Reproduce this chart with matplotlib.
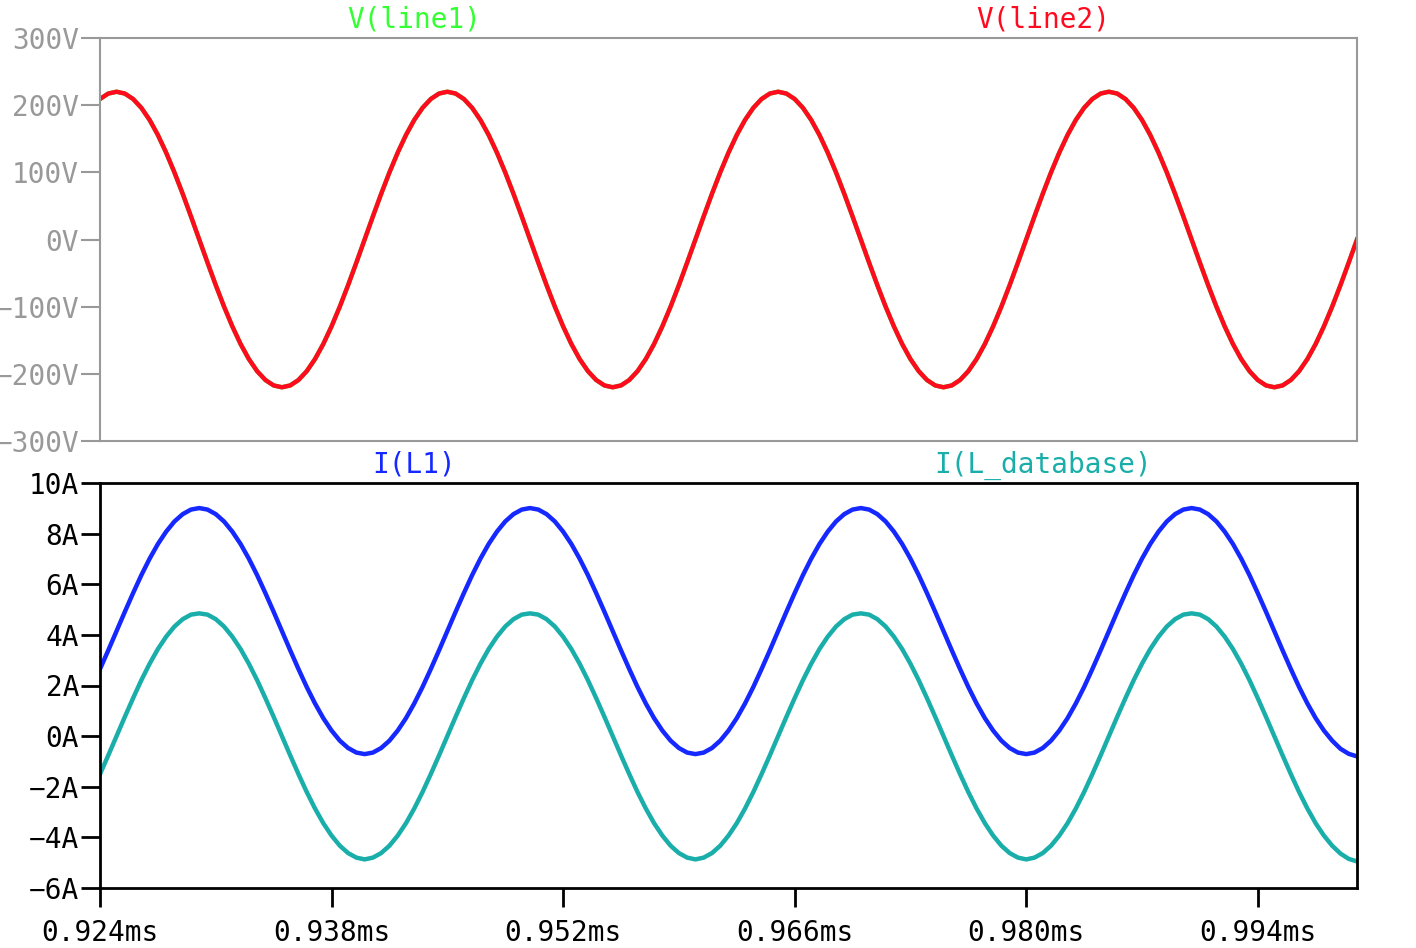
import matplotlib
matplotlib.use("Agg")
import matplotlib.pyplot as plt

t_ms = [round(0.924 + 0.0005 * k, 4) for k in range(153)]

v_line2 = [
    209.2, 217.3, 220.0, 217.3, 209.2, 196.0, 178.0, 155.6, 129.3, 99.9,
    68.0, 34.4, 0.0, -34.4, -68.0, -99.9, -129.3, -155.6, -178.0, -196.0,
    -209.2, -217.3, -220.0, -217.3, -209.2, -196.0, -178.0, -155.6, -129.3, -99.9,
    -68.0, -34.4, 0.0, 34.4, 68.0, 99.9, 129.3, 155.6, 178.0, 196.0,
    209.2, 217.3, 220.0, 217.3, 209.2, 196.0, 178.0, 155.6, 129.3, 99.9,
    68.0, 34.4, 0.0, -34.4, -68.0, -99.9, -129.3, -155.6, -178.0, -196.0,
    -209.2, -217.3, -220.0, -217.3, -209.2, -196.0, -178.0, -155.6, -129.3, -99.9,
    -68.0, -34.4, 0.0, 34.4, 68.0, 99.9, 129.3, 155.6, 178.0, 196.0,
    209.2, 217.3, 220.0, 217.3, 209.2, 196.0, 178.0, 155.6, 129.3, 99.9,
    68.0, 34.4, 0.0, -34.4, -68.0, -99.9, -129.3, -155.6, -178.0, -196.0,
    -209.2, -217.3, -220.0, -217.3, -209.2, -196.0, -178.0, -155.6, -129.3, -99.9,
    -68.0, -34.4, 0.0, 34.4, 68.0, 99.9, 129.3, 155.6, 178.0, 196.0,
    209.2, 217.3, 220.0, 217.3, 209.2, 196.0, 178.0, 155.6, 129.3, 99.9,
    68.0, 34.4, 0.0, -34.4, -68.0, -99.9, -129.3, -155.6, -178.0, -196.0,
    -209.2, -217.3, -220.0, -217.3, -209.2, -196.0, -178.0, -155.6, -129.3, -99.9,
    -68.0, -34.4, 0.0,
]
v_line1 = list(v_line2)  # identical trace, hidden under V(line2)

i_l1 = [
    2.65, 3.39, 4.15, 4.91, 5.65, 6.36, 7.01, 7.59, 8.08, 8.48,
    8.77, 8.95, 9.01, 8.95, 8.77, 8.48, 8.08, 7.59, 7.01, 6.36,
    5.65, 4.91, 4.15, 3.39, 2.65, 1.94, 1.29, 0.71, 0.22, -0.18,
    -0.47, -0.65, -0.71, -0.65, -0.47, -0.18, 0.22, 0.71, 1.29, 1.94,
    2.65, 3.39, 4.15, 4.91, 5.65, 6.36, 7.01, 7.59, 8.08, 8.48,
    8.77, 8.95, 9.01, 8.95, 8.77, 8.48, 8.08, 7.59, 7.01, 6.36,
    5.65, 4.91, 4.15, 3.39, 2.65, 1.94, 1.29, 0.71, 0.22, -0.18,
    -0.47, -0.65, -0.71, -0.65, -0.47, -0.18, 0.22, 0.71, 1.29, 1.94,
    2.65, 3.39, 4.15, 4.91, 5.65, 6.36, 7.01, 7.59, 8.08, 8.48,
    8.77, 8.95, 9.01, 8.95, 8.77, 8.48, 8.08, 7.59, 7.01, 6.36,
    5.65, 4.91, 4.15, 3.39, 2.65, 1.94, 1.29, 0.71, 0.22, -0.18,
    -0.47, -0.65, -0.71, -0.65, -0.47, -0.18, 0.22, 0.71, 1.29, 1.94,
    2.65, 3.39, 4.15, 4.91, 5.65, 6.36, 7.01, 7.59, 8.08, 8.48,
    8.77, 8.95, 9.01, 8.95, 8.77, 8.48, 8.08, 7.59, 7.01, 6.36,
    5.65, 4.91, 4.15, 3.39, 2.65, 1.94, 1.29, 0.71, 0.22, -0.18,
    -0.50, -0.70, -0.80,
]
i_l_database = [
    -1.50, -0.76, 0.00, 0.76, 1.50, 2.21, 2.86, 3.44, 3.93, 4.33,
    4.62, 4.80, 4.85, 4.80, 4.62, 4.33, 3.93, 3.44, 2.86, 2.21,
    1.50, 0.76, 0.00, -0.76, -1.50, -2.21, -2.86, -3.44, -3.93, -4.33,
    -4.62, -4.80, -4.87, -4.80, -4.62, -4.33, -3.93, -3.44, -2.86, -2.21,
    -1.50, -0.76, 0.00, 0.76, 1.50, 2.21, 2.86, 3.44, 3.93, 4.33,
    4.62, 4.80, 4.85, 4.80, 4.62, 4.33, 3.93, 3.44, 2.86, 2.21,
    1.50, 0.76, 0.00, -0.76, -1.50, -2.21, -2.86, -3.44, -3.93, -4.33,
    -4.62, -4.80, -4.87, -4.80, -4.62, -4.33, -3.93, -3.44, -2.86, -2.21,
    -1.50, -0.76, 0.00, 0.76, 1.50, 2.21, 2.86, 3.44, 3.93, 4.33,
    4.62, 4.80, 4.85, 4.80, 4.62, 4.33, 3.93, 3.44, 2.86, 2.21,
    1.50, 0.76, 0.00, -0.76, -1.50, -2.21, -2.86, -3.44, -3.93, -4.33,
    -4.62, -4.80, -4.87, -4.80, -4.62, -4.33, -3.93, -3.44, -2.86, -2.21,
    -1.50, -0.76, 0.00, 0.76, 1.50, 2.21, 2.86, 3.44, 3.93, 4.33,
    4.62, 4.80, 4.85, 4.80, 4.62, 4.33, 3.93, 3.44, 2.86, 2.21,
    1.50, 0.76, 0.00, -0.76, -1.50, -2.21, -2.86, -3.44, -3.93, -4.33,
    -4.64, -4.85, -4.95,
]

x_ticks = [0.924, 0.938, 0.952, 0.966, 0.980, 0.994]
v_ticks = [-300, -200, -100, 0, 100, 200, 300]
i_ticks = [-6, -4, -2, 0, 2, 4, 6, 8, 10]

# ---- styling ----
FONT = "DejaVu Sans Mono"
FS = 20
GRAY = "#999999"
C_LINE1 = "#33ff33"
C_LINE2 = "#ff0a1e"
C_L1 = "#1428ff"
C_LDB = "#1aaeaa"
LW = 3.2

plt.rcParams["font.family"] = [FONT]

fig = plt.figure(figsize=(14.16, 9.48), dpi=100)
W, H = 1416, 948
left, right = 100 / W, 1357 / W
ax_v = fig.add_axes([left, 1 - 441 / H, right - left, 403 / H])
ax_i = fig.add_axes([left, 1 - 888 / H, right - left, 405 / H])

def fmt(val, unit):
    s = f"{val:g}{unit}"
    return s.replace("-", "\u2212")

# voltage panel
ax_v.plot(t_ms, v_line1, color=C_LINE1, lw=LW, solid_joinstyle="round")
ax_v.plot(t_ms, v_line2, color=C_LINE2, lw=LW, solid_joinstyle="round")
ax_v.set_xlim(0.924, 1.0)
ax_v.set_ylim(-300, 300)
ax_v.set_yticks(v_ticks)
ax_v.set_yticklabels([fmt(v, "V") for v in v_ticks])
ax_v.set_xticks([])
for s in ax_v.spines.values():
    s.set_color(GRAY)
    s.set_linewidth(1.5)
ax_v.tick_params(axis="y", direction="out", length=14, width=1.5, color=GRAY,
                 labelcolor=GRAY, labelsize=FS, pad=1)

# current panel
ax_i.plot(t_ms, i_l1, color=C_L1, lw=LW, solid_joinstyle="round")
ax_i.plot(t_ms, i_l_database, color=C_LDB, lw=LW, solid_joinstyle="round")
ax_i.set_xlim(0.924, 1.0)
ax_i.set_ylim(-6, 10)
ax_i.set_yticks(i_ticks)
ax_i.set_yticklabels([fmt(v, "A") for v in i_ticks])
ax_i.set_xticks(x_ticks)
ax_i.set_xticklabels([f"{x:.3f}ms" for x in x_ticks])
for s in ax_i.spines.values():
    s.set_color("black")
    s.set_linewidth(2)
ax_i.tick_params(axis="y", direction="out", length=14, width=2, color="black",
                 labelcolor="black", labelsize=FS, pad=1)
ax_i.tick_params(axis="x", direction="out", length=14, width=2, color="black",
                 labelcolor="black", labelsize=FS, pad=8)

# trace names above each panel
def label(ax, xfrac, text, color):
    ax.annotate(text, xy=(xfrac, 1.0), xycoords="axes fraction",
                xytext=(0, 7.5), textcoords="offset points",
                ha="center", va="baseline", color=color, fontsize=FS,
                family=FONT, zorder=5)

label(ax_v, 0.25, "V(line1)", C_LINE1)
label(ax_v, 0.75, "V(line2)", C_LINE2)
label(ax_i, 0.25, "I(L1)", C_L1)
label(ax_i, 0.75, "I(L_database)", C_LDB)

fig.savefig("out.png", dpi=100, facecolor="white")
